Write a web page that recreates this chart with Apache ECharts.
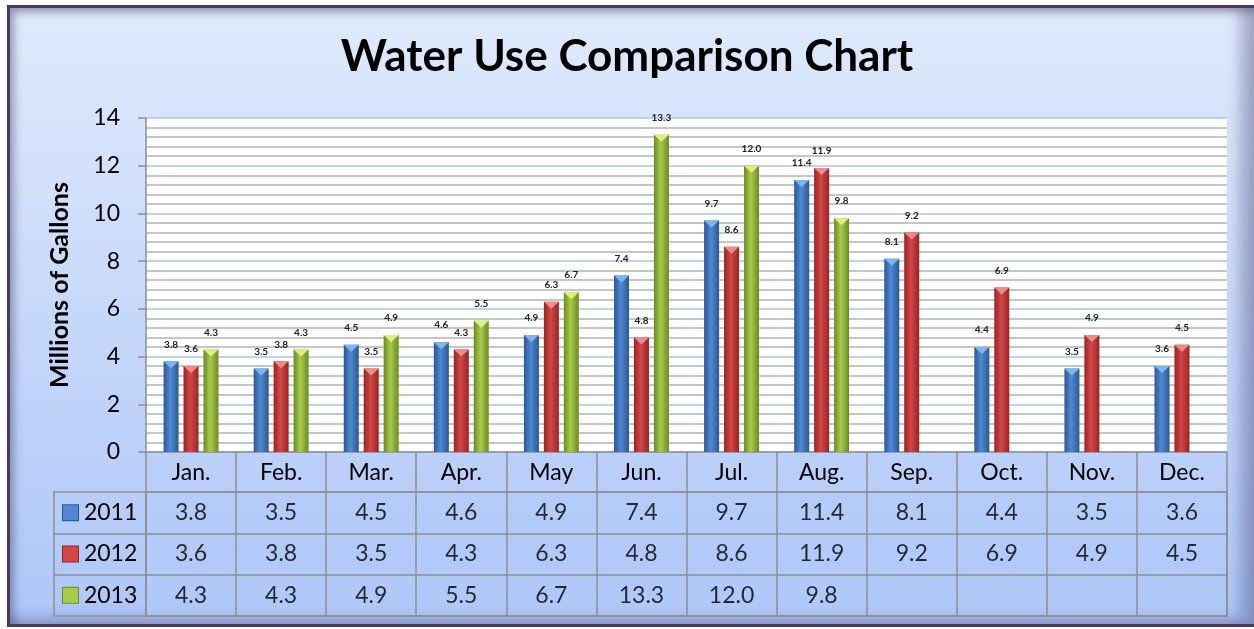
<!DOCTYPE html>
<html>
<head>
<meta charset="utf-8">
<script src="https://cdn.jsdelivr.net/npm/echarts@6/dist/echarts.min.js"></script>
<style>
  body { margin: 0; background: #ffffff; }
  #frame {
    position: absolute; left: 7px; top: 5px; width: 1247px; height: 622px;
    box-sizing: border-box;
    border-top: 3px solid #4a3b5c; border-left: 3px solid #4a3b5c;
    border-bottom: 3px solid #4a3b5c;
    background: linear-gradient(#e0eafc, #adc7f8);
    box-shadow: inset 4px 4px 8px rgba(60,50,90,0.45), inset -14px -6px 14px rgba(60,60,110,0.35);
  }
  #main { position: absolute; left: 0; top: 0; width: 1254px; height: 629px; }
</style>
</head>
<body>
<div id="frame"></div>
<div id="main"></div>
<script>
// 月份和各年用水量(百万加仑)
const months = ['Jan.', 'Feb.', 'Mar.', 'Apr.', 'May', 'Jun.', 'Jul.', 'Aug.', 'Sep.', 'Oct.', 'Nov.', 'Dec.']
const years = ['2011', '2012', '2013']
const use2011 = [3.8, 3.5, 4.5, 4.6, 4.9, 7.4, 9.7, 11.4, 8.1, 4.4, 3.5, 3.6]
const use2012 = [3.6, 3.8, 3.5, 4.3, 6.3, 4.8, 8.6, 11.9, 9.2, 6.9, 4.9, 4.5]
const use2013 = [4.3, 4.3, 4.9, 5.5, 6.7, 13.3, 12.0, 9.8, null, null, null, null]

const FONT = 'Lato'
const gridGray = '#8e8e8e'

// 柱子颜色: [边缘, 中间, 顶部高光]
const palette = [
  ['#2b5894', '#5089d2', '#7fb5ee'],
  ['#9b2323', '#d24848', '#f08a86'],
  ['#6b8a22', '#a9cb4c', '#dcf07a']
]

function barColor(p) {
  return {
    type: 'linear', x: 0, y: 0, x2: 1, y2: 0,
    colorStops: [
      { offset: 0, color: p[0] },
      { offset: 0.45, color: p[1] },
      { offset: 1, color: p[0] }
    ]
  }
}

const allUse = [use2011, use2012, use2013]

let series = []
allUse.forEach((vals, i) => {
  series.push({
    name: years[i],
    type: 'bar',
    barWidth: 15,
    barGap: '33%',
    data: vals,
    itemStyle: { color: barColor(palette[i]) },
    label: {
      show: true,
      position: 'top',
      distance: 12,
      fontFamily: FONT,
      fontSize: 10,
      fontWeight: 'bold',
      color: '#222',
      formatter: p => p.value == null ? '' : Number(p.value).toFixed(1)
    }
  })
})
// 顶部三角高光
allUse.forEach((vals, i) => {
  series.push({
    type: 'pictorialBar',
    barWidth: 15,
    barGap: '33%',
    symbol: 'triangle',
    symbolRotate: 180,
    symbolSize: [15, 7],
    symbolPosition: 'end',
    symbolOffset: [0, 0],
    z: 3,
    data: vals,
    itemStyle: { color: palette[i][2] },
    silent: true
  })
})

// 数据表格单元格
let cells = []
allUse.forEach((vals, r) => {
  vals.forEach((v, c) => {
    if (v != null) cells.push([c, r, v])
  })
})
series.push({
  type: 'scatter',
  xAxisIndex: 1,
  yAxisIndex: 1,
  symbolSize: 1,
  itemStyle: { color: 'rgba(0,0,0,0)' },
  data: cells,
  label: {
    show: true,
    position: 'inside',
    fontFamily: FONT,
    fontSize: 23,
    color: '#000',
    formatter: p => p.value[2].toFixed(1)
  }
})

const chart = echarts.init(document.getElementById('main'))
chart.setOption({
  backgroundColor: 'transparent',
  animation: false,
  title: {
    text: 'Water Use Comparison Chart',
    left: 'center',
    top: 30,
    textStyle: { fontFamily: FONT, fontSize: 44, fontWeight: 'bold', color: '#000' }
  },
  grid: [
    { left: 146, right: 27, top: 118, bottom: 177, show: true, backgroundColor: '#ffffff', borderWidth: 0 },
    { left: 146, right: 27, top: 492, bottom: 13, show: true, backgroundColor: 'rgba(175,202,250,0.5)', borderColor: gridGray, borderWidth: 1.5 }
  ],
  xAxis: [
    {
      type: 'category',
      gridIndex: 0,
      data: months,
      axisLine: { lineStyle: { color: gridGray, width: 1.5 } },
      axisTick: { show: true, length: 164, interval: 0, lineStyle: { color: gridGray, width: 1.5 } },
      axisLabel: { fontFamily: FONT, fontSize: 23, color: '#000', margin: 9, interval: 0 }
    },
    {
      type: 'category',
      gridIndex: 1,
      data: months,
      show: false
    }
  ],
  yAxis: [
    {
      type: 'value',
      gridIndex: 0,
      min: 0,
      max: 14,
      interval: 2,
      name: 'Millions of Gallons',
      nameLocation: 'middle',
      nameGap: 74,
      nameTextStyle: { fontFamily: FONT, fontSize: 25, fontWeight: 'bold', color: '#000' },
      axisLine: { show: true, lineStyle: { color: gridGray, width: 1.5 } },
      axisTick: { show: true, length: 8, lineStyle: { color: gridGray, width: 1.5 } },
      axisLabel: { fontFamily: FONT, fontSize: 23, color: '#000', margin: 26 },
      splitLine: { lineStyle: { color: '#a8c3ee', width: 1.5 } },
      minorTick: { show: false, splitNumber: 5 },
      minorSplitLine: { show: true, lineStyle: { color: '#b4b4b4', width: 1.5 } }
    },
    {
      type: 'category',
      gridIndex: 1,
      data: years,
      inverse: true,
      offset: 92,
      axisLine: { show: true, lineStyle: { color: gridGray, width: 1.5 } },
      axisTick: { show: true, inside: true, length: 92, interval: 0, lineStyle: { color: gridGray, width: 1.5 } },
      splitLine: { show: true, interval: 0, lineStyle: { color: gridGray, width: 1.5 } },
      axisLabel: {
        inside: true,
        margin: 9,
        fontFamily: FONT,
        fontSize: 23,
        color: '#000',
        formatter: v => '{i' + years.indexOf(v) + '|} ' + v,
        rich: {
          i0: { width: 15, height: 15, backgroundColor: palette[0][1], borderColor: palette[0][0], borderWidth: 1 },
          i1: { width: 15, height: 15, backgroundColor: palette[1][1], borderColor: palette[1][0], borderWidth: 1 },
          i2: { width: 15, height: 15, backgroundColor: palette[2][1], borderColor: palette[2][0], borderWidth: 1 }
        }
      }
    }
  ],
  series: series
})
</script>
</body>
</html>
